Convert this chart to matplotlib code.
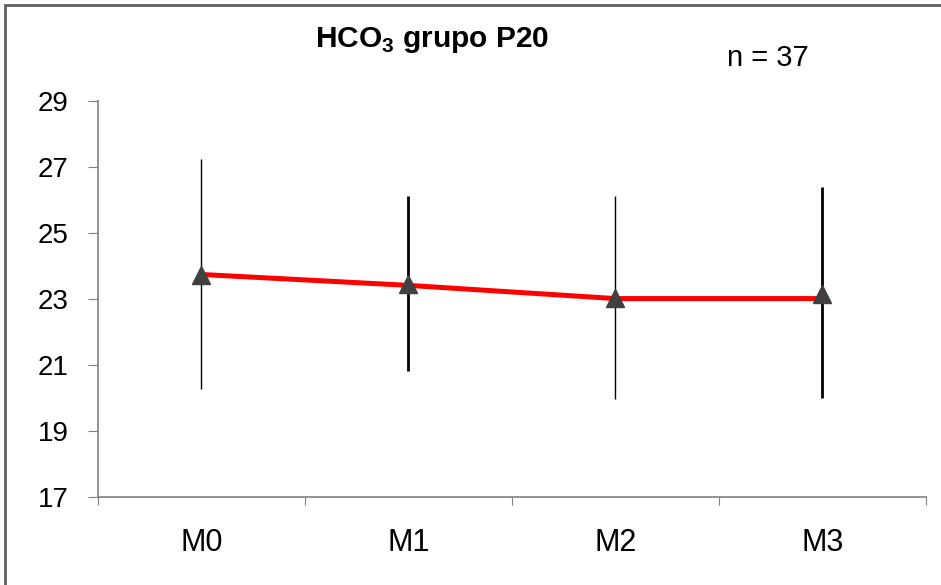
import matplotlib
matplotlib.use("Agg")
import matplotlib.pyplot as plt
from matplotlib.patches import Rectangle

plt.rcParams['font.family'] = ['Liberation Sans', 'DejaVu Sans']

categories = ["M0", "M1", "M2", "M3"]
line_values = [23.75, 23.42, 23.02, 23.02]
marker_values = [23.72, 23.45, 23.04, 23.17]
err_top = [27.24, 26.14, 26.14, 26.39]
err_bottom = [20.28, 20.83, 19.98, 20.01]
yticks = [17, 19, 21, 23, 25, 27, 29]

fig = plt.figure(figsize=(9.41, 5.85), dpi=100)
ax = fig.add_axes([0.104, 0.150, 0.880, 0.677])

x = list(range(len(categories)))
ax.vlines(x, err_bottom, err_top, colors='black', linewidths=[1.0, 2.0, 1.0, 2.0], zorder=2)
ax.plot(x, line_values, color='#ff0000', linewidth=3.6, zorder=3, solid_capstyle='butt')
ax.plot(x, marker_values, linestyle='none', marker='^', markersize=13,
        color='#404040', zorder=4)

ax.set_xlim(-0.5, 3.5)
ax.set_ylim(17, 29)
ax.set_yticks(yticks)
ax.set_yticklabels([str(v) for v in yticks], fontsize=20)
ax.set_xticks([i - 0.5 for i in range(len(categories) + 1)])
ax.set_xticklabels([])
ax.set_xticks(x, minor=True)
ax.set_xticklabels(categories, minor=True, fontsize=22)
ax.tick_params(axis='x', which='minor', length=0, pad=22)
ax.tick_params(axis='x', which='major', length=6, color='#808080', direction='out')
ax.tick_params(axis='y', length=7, color='#808080', direction='out', pad=14)

for s in ['top', 'right']:
    ax.spines[s].set_visible(False)
for s in ['left', 'bottom']:
    ax.spines[s].set_color('#808080')
    ax.spines[s].set_linewidth(1.2)

fig.text(0.459, 0.920, r"HCO$_\mathregular{3}$ grupo P20", ha='center', va='baseline',
         fontsize=21.5, fontweight='bold')
fig.text(0.816, 0.887, "n = 37", ha='center', va='baseline', fontsize=21)

fig.patches.append(Rectangle((5/941, -0.1), 1.2, 1 - 5/585 + 0.1,
                             transform=fig.transFigure, fill=False,
                             edgecolor='#606060', linewidth=2, figure=fig))

fig.savefig("out.png", dpi=100)
